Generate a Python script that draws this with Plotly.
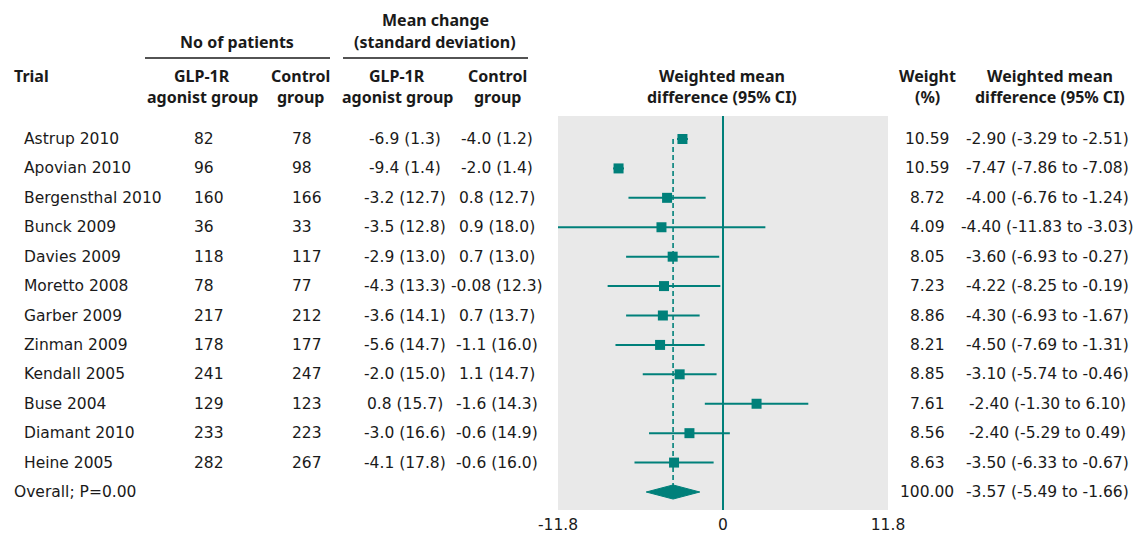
import plotly.graph_objects as go

# ---------------- data ----------------
trials = ["Astrup 2010", "Apovian 2010", "Bergensthal 2010", "Bunck 2009", "Davies 2009",
          "Moretto 2008", "Garber 2009", "Zinman 2009", "Kendall 2005", "Buse 2004",
          "Diamant 2010", "Heine 2005"]
n_glp = [82, 96, 160, 36, 118, 78, 217, 178, 241, 129, 233, 282]
n_ctrl = [78, 98, 166, 33, 117, 77, 212, 177, 247, 123, 223, 267]
mean_glp = ["-6.9 (1.3)", "-9.4 (1.4)", "-3.2 (12.7)", "-3.5 (12.8)", "-2.9 (13.0)",
            "-4.3 (13.3)", "-3.6 (14.1)", "-5.6 (14.7)", "-2.0 (15.0)", "0.8 (15.7)",
            "-3.0 (16.6)", "-4.1 (17.8)"]
mean_ctrl = ["-4.0 (1.2)", "-2.0 (1.4)", "0.8 (12.7)", "0.9 (18.0)", "0.7 (13.0)",
             "-0.08 (12.3)", "0.7 (13.7)", "-1.1 (16.0)", "1.1 (14.7)", "-1.6 (14.3)",
             "-0.6 (14.9)", "-0.6 (16.0)"]
weights = ["10.59", "10.59", "8.72", "4.09", "8.05", "7.23", "8.86", "8.21", "8.85",
           "7.61", "8.56", "8.63"]
wmd_text = ["-2.90 (-3.29 to -2.51)", "-7.47 (-7.86 to -7.08)", "-4.00 (-6.76 to -1.24)",
            "-4.40 (-11.83 to -3.03)", "-3.60 (-6.93 to -0.27)", "-4.22 (-8.25 to -0.19)",
            "-4.30 (-6.93 to -1.67)", "-4.50 (-7.69 to -1.31)", "-3.10 (-5.74 to -0.46)",
            "-2.40 (-1.30 to 6.10)", "-2.40 (-5.29 to 0.49)", "-3.50 (-6.33 to -0.67)"]
# values as drawn in the forest plot
est = [-2.90, -7.47, -4.00, -4.40, -3.60, -4.22, -4.30, -4.50, -3.10, 2.40, -2.40, -3.50]
ci_lo = [-3.29, -7.86, -6.76, -11.83, -6.93, -8.25, -6.93, -7.69, -5.74, -1.30, -5.29, -6.33]
ci_hi = [-2.51, -7.08, -1.24, 3.03, -0.27, -0.19, -1.67, -1.31, -0.46, 6.10, 0.49, -0.67]
overall_label = "Overall; P=0.00"
overall_weight = "100.00"
overall_text = "-3.57 (-5.49 to -1.66)"
overall_est, overall_lo, overall_hi = -3.57, -5.49, -1.66
x_ticks = [-11.8, 0, 11.8]

# ---------------- styling ----------------
W, H = 1141, 536
TEAL = "#00807a"
TXT = "#1a1a1a"
FONT = "DejaVu Sans"
HFONT = "Noto Sans"
FS = 15.5

def px_x(p):
    return p / W

def px_y(p):
    return 1 - p / H

n = len(trials)
rows = list(range(n))
overall_row = n
row_px_top, row_px_bot = 139, 492
step = (row_px_bot - row_px_top) / n
box_top, box_bot = 116, 510
y_top = 0 - (row_px_top - box_top) / step
y_bot = n + (box_bot - row_px_bot) / step

fig = go.Figure()

# dashed overall line
fig.add_trace(go.Scatter(x=[overall_est, overall_est], y=[0, overall_row], mode="lines",
                         line=dict(color=TEAL, width=1.6, dash="5px,3px"), hoverinfo="skip",
                         showlegend=False))

# study estimates with CIs
fig.add_trace(go.Scatter(
    x=est, y=rows, mode="markers",
    marker=dict(symbol="square", size=10, color=TEAL),
    error_x=dict(type="data", symmetric=False,
                 array=[h - e for h, e in zip(ci_hi, est)],
                 arrayminus=[e - l for e, l in zip(est, ci_lo)],
                 color=TEAL, thickness=2, width=0),
    showlegend=False, hoverinfo="skip"))

# overall diamond
dh = 0.24
fig.add_trace(go.Scatter(
    x=[overall_lo, overall_est, overall_hi, overall_est, overall_lo],
    y=[overall_row, overall_row - dh, overall_row, overall_row + dh, overall_row],
    mode="lines", fill="toself", fillcolor=TEAL, line=dict(color=TEAL, width=1),
    showlegend=False, hoverinfo="skip"))

fig.update_layout(
    width=W, height=H, margin=dict(l=0, r=0, t=0, b=0, autoexpand=False),
    paper_bgcolor="white", plot_bgcolor="#e9e9e9", showlegend=False,
    font=dict(family=FONT, size=FS, color=TXT),
    xaxis=dict(domain=[px_x(558), px_x(888)], range=[-11.8, 11.8],
               tickvals=x_ticks, ticktext=[str(t) for t in x_ticks],
               showgrid=False, zeroline=True, zerolinecolor=TEAL, zerolinewidth=2,
               showline=False, ticks="", ticklabelstandoff=3, automargin=False,
               tickfont=dict(family=FONT, size=FS, color=TXT)),
    yaxis=dict(domain=[px_y(box_bot), px_y(box_top)], range=[y_bot, y_top],
               showgrid=False, zeroline=False, showticklabels=False, ticks="",
               automargin=False),
)

def add_text(x, y, text, xanchor="center", yref="y", bold=False):
    fig.add_annotation(x=px_x(x), xref="paper", y=y, yref=yref,
                       text=(f"<b>{text}</b>" if bold else text),
                       showarrow=False, xanchor=xanchor, yanchor="middle",
                       font=dict(family=(HFONT if bold else FONT), size=(16 if bold else FS),
                                 color=TXT))

# rows
for i in range(n):
    add_text(22, i, trials[i], "left")
    add_text(192, i, str(n_glp[i]), "left")
    add_text(290, i, str(n_ctrl[i]), "left")
    add_text(405, i, mean_glp[i])
    add_text(497, i, mean_ctrl[i])
    add_text(927, i, weights[i])
    add_text(1047, i, wmd_text[i])
add_text(12, overall_row, overall_label, "left")
add_text(927, overall_row, overall_weight)
add_text(1047, overall_row, overall_text)

# headers
hdr = [
    (12, 76, "Trial", "left"),
    (237, 42, "No of patients", "center"),
    (435, 20, "Mean change", "center"),
    (435, 42, "(standard deviation)", "center"),
    (202, 76, "GLP-1R", "center"), (202, 97, "agonist group", "center"),
    (300, 76, "Control", "center"), (300, 97, "group", "center"),
    (397, 76, "GLP-1R", "center"), (397, 97, "agonist group", "center"),
    (497, 76, "Control", "center"), (497, 97, "group", "center"),
    (722, 76, "Weighted mean", "center"), (722, 97, "difference (95% CI)", "center"),
    (927, 76, "Weight", "center"), (927, 97, "(%)", "center"),
    (1050, 76, "Weighted mean", "center"), (1050, 97, "difference (95% CI)", "center"),
]
for x, y, t, a in hdr:
    add_text(x, px_y(y), t, a, yref="paper", bold=True)

# header underlines
for x0, x1 in [(145, 330), (343, 528)]:
    fig.add_shape(type="line", xref="paper", yref="paper", x0=px_x(x0), x1=px_x(x1),
                  y0=px_y(58), y1=px_y(58), line=dict(color=TXT, width=1.5))

fig.write_html("out.html", config={"displayModeBar": False},
               post_script="document.body.style.margin='0';document.body.style.overflow='hidden';")
